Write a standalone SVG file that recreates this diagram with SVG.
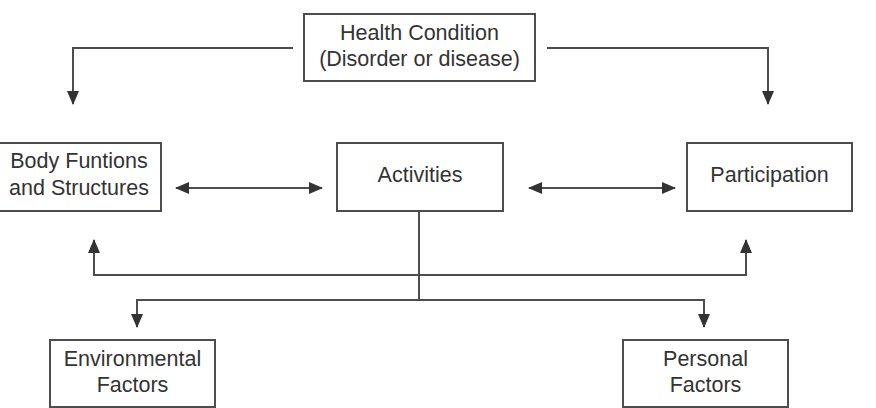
<svg xmlns="http://www.w3.org/2000/svg" width="876" height="408" viewBox="0 0 876 408">
<style>
.box{fill:#fff;stroke:#4d4d4d;stroke-width:2}
.t{font-family:"Liberation Sans",Arial,sans-serif;font-size:21.5px;fill:#333;text-anchor:middle}
.c{fill:none;stroke:#4d4d4d;stroke-width:2}
</style>
<defs>
<marker id="ah" markerUnits="userSpaceOnUse" markerWidth="14" markerHeight="12" refX="13" refY="6" orient="auto-start-reverse" viewBox="0 0 14 12">
<path d="M0,0 L14,6 L0,12 z" fill="#333"/>
</marker>
</defs>
<rect width="876" height="408" fill="#fff"/>
<g id="connectors">
<path class="c" d="M293,48 H73 V104" marker-end="url(#ah)"/>
<path class="c" d="M547,48 H768 V104" marker-end="url(#ah)"/>
<path class="c" d="M176,188 H322" marker-start="url(#ah)" marker-end="url(#ah)"/>
<path class="c" d="M529,188 H675" marker-start="url(#ah)" marker-end="url(#ah)"/>
<path class="c" d="M419,211 V300"/>
<path class="c" d="M419,275 H94 V240" marker-end="url(#ah)"/>
<path class="c" d="M419,275 H746 V240" marker-end="url(#ah)"/>
<path class="c" d="M419,300 H137 V327" marker-end="url(#ah)"/>
<path class="c" d="M419,300 H704 V327" marker-end="url(#ah)"/>
</g>
<g id="health">
<rect class="box" x="304" y="14" width="231" height="67"/>
<text class="t" x="419.5" y="40">Health Condition</text>
<text class="t" x="419.5" y="66">(Disorder or disease)</text>
</g>
<g id="body">
<rect class="box" x="-1" y="143" width="162" height="68"/>
<text class="t" x="79" y="168">Body Funtions</text>
<text class="t" x="79" y="195">and Structures</text>
</g>
<g id="activities">
<rect class="box" x="337" y="143" width="166" height="68"/>
<text class="t" x="420" y="182">Activities</text>
</g>
<g id="participation">
<rect class="box" x="687" y="143" width="165" height="68"/>
<text class="t" x="769.5" y="182">Participation</text>
</g>
<g id="environmental">
<rect class="box" x="50" y="340" width="165" height="67"/>
<text class="t" x="132.5" y="366">Environmental</text>
<text class="t" x="132.5" y="392">Factors</text>
</g>
<g id="personal">
<rect class="box" x="623" y="340" width="165" height="67"/>
<text class="t" x="705.5" y="366">Personal</text>
<text class="t" x="705.5" y="392">Factors</text>
</g>
</svg>
